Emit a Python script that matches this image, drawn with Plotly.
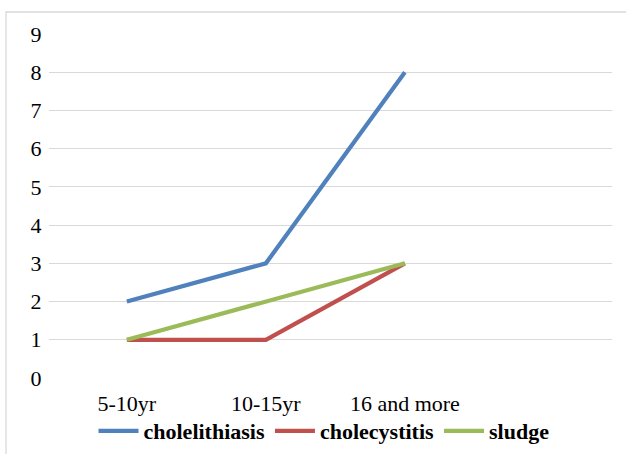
import plotly.graph_objects as go

categories = ["5-10yr", "10-15yr", "16 and more", " "]
cholelithiasis = [2, 3, 8]
cholecystitis = [1, 1, 3]
sludge = [1, 2, 3]
y_ticks = [0, 1, 2, 3, 4, 5, 6, 7, 8, 9]

W, H = 626, 454
L, R, T, B = 49, 14, 34, 76
pw, ph = W - L - R, H - T - B
FONT = "Liberation Serif"
FS = 22

fig = go.Figure()
series = [
    ("cholelithiasis", cholelithiasis, "#4F81BD"),
    ("cholecystitis", cholecystitis, "#C0504D"),
    ("sludge", sludge, "#9BBB59"),
]
for name, vals, col in series:
    fig.add_trace(go.Scatter(
        x=categories[:len(vals)], y=vals, name=name, mode="lines",
        line=dict(color=col, width=4.2),
    ))

fig.update_layout(
    template="none",
    width=W, height=H,
    margin=dict(l=L, r=R, t=T, b=B, autoexpand=False),
    paper_bgcolor="white", plot_bgcolor="white",
    font=dict(family=FONT, size=FS, color="#000000"),
    showlegend=True,
    legend=dict(
        orientation="h", x=(324 - L) / pw, xanchor="center",
        y=(378 - 431) / ph, yanchor="middle",
        font=dict(family=FONT, size=FS, color="#000000", weight="bold"),
        itemwidth=40, tracegroupgap=0,
        bgcolor="rgba(0,0,0,0)",
    ),
    xaxis=dict(
        type="category", categoryorder="array", categoryarray=categories,
        range=[-0.56, 3.49], showgrid=False, zeroline=False,
        showline=False, ticks="outside", ticklen=6,
        tickcolor="rgba(0,0,0,0)",
        tickfont=dict(family=FONT, size=FS),
    ),
    yaxis=dict(
        range=[0, 9], tickvals=y_ticks, showgrid=True, gridcolor="#D9D9D9",
        gridwidth=1.3, zeroline=False, showline=False,
        ticks="outside", ticklen=2, tickcolor="rgba(0,0,0,0)",
        tickfont=dict(family=FONT, size=FS),
    ),
    shapes=[dict(
        type="rect", xref="paper", yref="paper",
        x0=(6 - L) / pw, x1=1.2, y0=-0.4, y1=(378 - 12) / ph,
        line=dict(color="#D9D9D9", width=1.3), layer="below",
    )],
)
fig.write_html("out.html", post_script="document.body.style.margin='0';",
               config={"displayModeBar": False})
